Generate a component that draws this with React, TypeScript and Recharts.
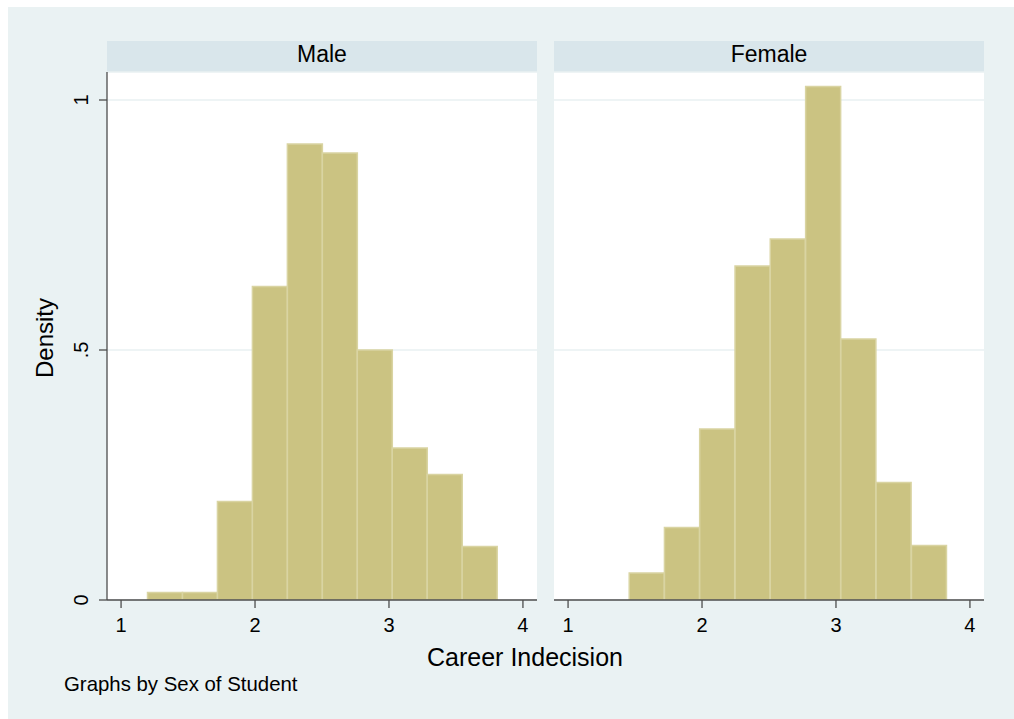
import React from 'react';
import { BarChart, Bar, XAxis, YAxis, CartesianGrid } from 'recharts';

const FONT = '"Liberation Sans", Arial, Helvetica, sans-serif';

// Histogram bins (bin centres on the "Career Indecision" scale) and densities
const maleBinCenters = [1.328, 1.589, 1.85, 2.111, 2.372, 2.633, 2.894, 3.155, 3.416, 3.677];
const maleDensity = [0.015, 0.015, 0.197, 0.627, 0.912, 0.894, 0.5, 0.304, 0.251, 0.107];
const femaleBinCenters = [1.588, 1.851, 2.114, 2.378, 2.641, 2.905, 3.168, 3.431, 3.695];
const femaleDensity = [0.054, 0.145, 0.342, 0.668, 0.722, 1.027, 0.522, 0.235, 0.109];

const xTicks = [1, 2, 3, 4];
const yTicks = [0, 0.5, 1];
const yTickLabels = ['0', '.5', '1'];
const panelTitles = ['Male', 'Female'];
const xTitle = 'Career Indecision';
const yTitle = 'Density';
const note = 'Graphs by Sex of Student';

const xDomain: [number, number] = [0.895, 4.105];
const yDomain: [number, number] = [0, 1.056];

const maleData = maleBinCenters.map((x, i) => ({ x, d: maleDensity[i] }));
const femaleData = femaleBinCenters.map((x, i) => ({ x, d: femaleDensity[i] }));

const OUTER_BG = '#EAF2F3';
const HEADER_BG = '#D9E6EB';
const GRID = '#E9F1F2';
const AXIS = '#4D4D4D';
const BAR_FILL = '#CBC382';
const BAR_STROKE = '#D9D4A2';

const CHART_H = 640;
const TOP = 65;
const XAXIS_H = 47;

const XTick = (props: any) => {
  const { x, y, payload } = props;
  return (
    <text x={x} y={y + 24} textAnchor="middle" fontSize={20} fontFamily={FONT} fill="#000">
      {payload.value}
    </text>
  );
};

const YTick = (props: any) => {
  const { x, y, payload } = props;
  const idx = yTicks.indexOf(payload.value);
  const tx = x - 11;
  return (
    <text
      x={tx}
      y={y}
      transform={`rotate(-90, ${tx}, ${y})`}
      textAnchor="middle"
      fontSize={20}
      fontFamily={FONT}
      fill="#000"
    >
      {idx >= 0 ? yTickLabels[idx] : payload.value}
    </text>
  );
};

const DensityLabel = (props: any) => {
  const vb = props.viewBox || { x: 0, y: TOP, width: 99, height: 528 };
  const tx = vb.x + 45;
  const ty = vb.y + vb.height / 2 + 2;
  return (
    <text
      x={tx}
      y={ty}
      transform={`rotate(-90, ${tx}, ${ty})`}
      textAnchor="middle"
      fontSize={24}
      fontFamily={FONT}
      fill="#000"
    >
      {yTitle}
    </text>
  );
};

function Panel({ data, showY, width }: { data: any[]; showY: boolean; width: number }) {
  return (
    <BarChart
      width={width}
      height={CHART_H}
      data={data}
      margin={{ top: TOP, right: 0, bottom: 0, left: 0 }}
      barCategoryGap={0}
      barGap={0}
    >
      <CartesianGrid horizontal vertical={false} stroke={GRID} strokeWidth={1.5} />
      <XAxis
        dataKey="x"
        type="number"
        domain={xDomain}
        ticks={xTicks}
        allowDataOverflow
        height={XAXIS_H}
        tickSize={8}
        tickMargin={0}
        tick={<XTick />}
        axisLine={{ stroke: AXIS, strokeWidth: 1.3 }}
        tickLine={{ stroke: AXIS, strokeWidth: 1.3 }}
        interval={0}
      />
      <YAxis
        type="number"
        domain={yDomain}
        ticks={yTicks}
        allowDataOverflow
        hide={!showY}
        width={showY ? 99 : 0}
        tickSize={8}
        tickMargin={0}
        tick={<YTick />}
        axisLine={{ stroke: AXIS, strokeWidth: 1.3 }}
        tickLine={{ stroke: AXIS, strokeWidth: 1.3 }}
        interval={0}
        label={showY ? { content: DensityLabel } : undefined}
      />
      <Bar
        dataKey="d"
        fill={BAR_FILL}
        stroke={BAR_STROKE}
        strokeWidth={1.5}
        isAnimationActive={false}
      />
    </BarChart>
  );
}

export default function App() {
  return (
    <div
      style={{
        position: 'absolute',
        left: 8,
        top: 7,
        width: 1006,
        height: 712,
        background: OUTER_BG,
        fontFamily: FONT,
        overflow: 'hidden',
      }}
    >
      <svg width={1006} height={712} style={{ position: 'absolute', left: 0, top: 0 }}>
        <rect x={99} y={34} width={430} height={31} fill={HEADER_BG} />
        <rect x={546} y={34} width={430} height={31} fill={HEADER_BG} />
        <rect x={99} y={65} width={430} height={528} fill="#FFFFFF" />
        <rect x={546} y={65} width={430} height={528} fill="#FFFFFF" />
        <text x={314} y={55} textAnchor="middle" fontSize={23} fontFamily={FONT} fill="#000">
          {panelTitles[0]}
        </text>
        <text x={761} y={55} textAnchor="middle" fontSize={23} fontFamily={FONT} fill="#000">
          {panelTitles[1]}
        </text>
        <text x={517} y={659} textAnchor="middle" fontSize={25} fontFamily={FONT} fill="#000">
          {xTitle}
        </text>
        <text x={56} y={684} textAnchor="start" fontSize={20.4} fontFamily={FONT} fill="#000">
          {note}
        </text>
      </svg>
      <div style={{ position: 'absolute', left: 0, top: 0 }}>
        <Panel data={maleData} showY width={529} />
      </div>
      <div style={{ position: 'absolute', left: 546, top: 0 }}>
        <Panel data={femaleData} showY={false} width={430} />
      </div>
    </div>
  );
}
